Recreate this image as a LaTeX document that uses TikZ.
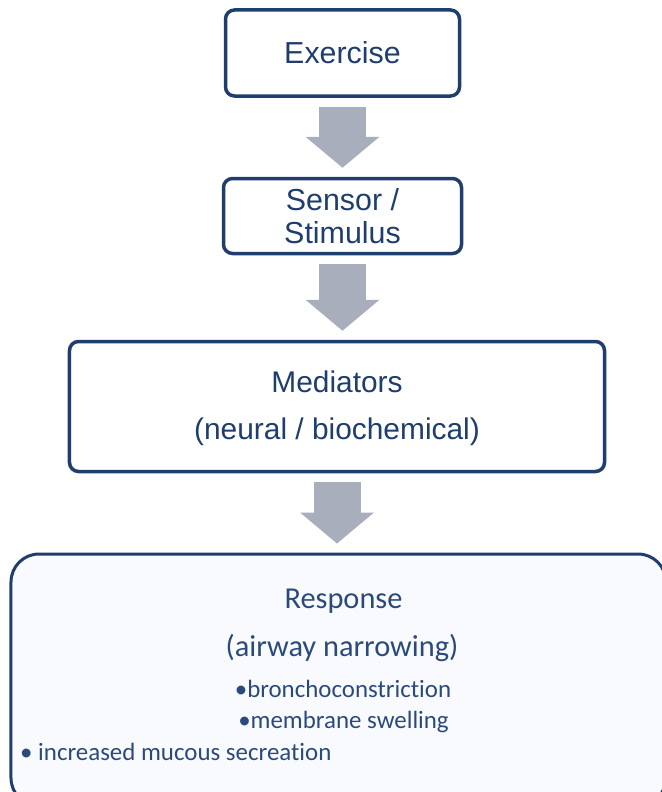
\documentclass[tikz,border=0pt]{standalone}
\usepackage{fontspec}
\setmainfont{Liberation Sans}
\newfontfamily\calibrifont[Ligatures=NoCommon]{Carlito}
\usetikzlibrary{arrows.meta}
\definecolor{navy}{HTML}{1F3E6E}
\definecolor{respblue}{HTML}{2B4A7C}
\definecolor{arrowgray}{HTML}{A9AEBC}
\definecolor{respfill}{HTML}{F9FAFD}
\tikzset{
  stagebox/.style={draw=navy, line width=3.5bp, rounded corners=9bp, fill=white, text=navy, align=center, font=\fontsize{30.5}{33}\selectfont},
  blockarrow/.style={draw=arrowgray, line width=47bp, -{Triangle[width=74bp,length=31bp,line width=0pt]}, shorten <=9bp, shorten >=9bp},
  resptext/.style={text=respblue, anchor=base, inner sep=0pt, font=\calibrifont\fontsize{30.5}{36}\selectfont},
  bullettext/.style={text=respblue, anchor=base, inner sep=0pt, font=\calibrifont\fontsize{25}{30}\selectfont}
}
\begin{document}
\begin{tikzpicture}[x=1bp,y=-1bp]
                \useasboundingbox (0,0) rectangle (662,792);
                \node[stagebox,minimum width=234bp,minimum height=86bp] (ex) at (342.5,53) {Exercise};
                \node[stagebox,minimum width=238bp,minimum height=75bp] (sen) at (342.5,216) {Sensor /\\Stimulus};
                \node[stagebox,minimum width=535bp,minimum height=130bp,font=\fontsize{30}{47}\selectfont,text depth=3bp] (med) at (337,406.5) {Mediators\\(neural / biochemical)};
                \node[draw=navy,line width=3bp,rounded corners=28bp,fill=respfill,minimum width=655bp,minimum height=252bp] (resp) at (338.5,680) {};
                \node[resptext] (resphead) at (343.5,608) {Response};
                \node[resptext] (airway) at (342,656) {(airway narrowing)};
                \node[bullettext] (broncho) at (343,697) {•bronchoconstriction};
                \node[bullettext] (swell) at (343.5,728) {•membrane swelling};
                \node[bullettext,anchor=base west] (mucous) at (20,760) {• increased mucous secreation};
                \draw[blockarrow] (ex) -- (sen);
                \draw[blockarrow] (sen.south) -- (sen.south |- med.north);
                \draw[blockarrow] (med.south) -- (med.south |- resp.north);
\end{tikzpicture}
\end{document}
